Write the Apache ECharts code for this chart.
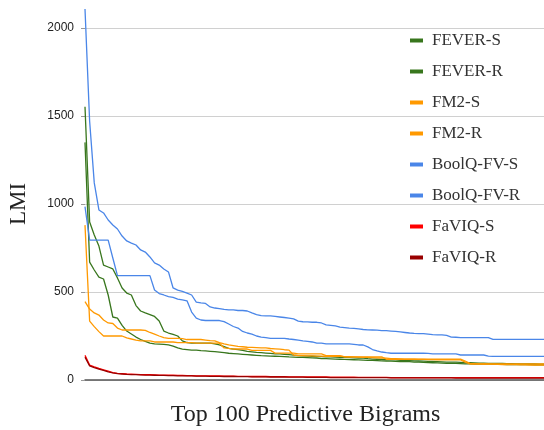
<!DOCTYPE html>
<html>
<head>
<meta charset="utf-8">
<script src="https://cdn.jsdelivr.net/npm/echarts@6/dist/echarts.min.js"></script>
<style>html,body{margin:0;padding:0;background:#fff;}#c{width:544px;height:430px;}</style>
</head>
<body>
<div id="c"></div>
<script>
var seriesNames = ['FEVER-S', 'FEVER-R', 'FM2-S', 'FM2-R', 'BoolQ-FV-S', 'BoolQ-FV-R', 'FaVIQ-S', 'FaVIQ-R'];
var yTicks = [0, 500, 1000, 1500, 2000];

var feverS = [1553, 898, 824, 761, 653, 642, 631, 580, 523, 494,
  483, 423, 392, 381, 372, 361, 335, 278, 267, 259,
  250, 222, 213, 209, 209, 209, 209, 209, 205, 200,
  190, 180, 176, 172, 168, 163, 160, 157, 155, 153,
  151, 149, 148, 146, 144, 141, 139, 137, 136, 135,
  134, 133, 132, 131, 130, 129, 128, 127, 126, 125,
  124, 121, 119, 118, 117, 116, 115, 114, 112, 111,
  110, 109, 108, 107, 106, 105, 104, 103, 102, 102,
  101, 100, 99, 98, 97, 96, 96, 95, 95, 94,
  94, 93, 93, 92, 92, 91, 91, 91, 90, 90];
var feverR = [1350, 670, 625, 585, 574, 483, 358, 352, 310, 278,
  261, 244, 230, 219, 209, 205, 204, 202, 200, 193,
  182, 176, 173, 170, 170, 167, 165, 163, 161, 158,
  155, 152, 150, 148, 146, 144, 142, 140, 138, 137,
  136, 135, 134, 133, 131, 130, 129, 128, 127, 126,
  125, 122, 121, 120, 119, 118, 117, 116, 115, 114,
  113, 112, 111, 110, 109, 108, 107, 106, 105, 105,
  104, 102, 101, 100, 99, 98, 97, 96, 95, 94,
  94, 93, 92, 92, 91, 91, 90, 90, 89, 89,
  89, 88, 88, 88, 87, 87, 87, 86, 86, 86];
var fm2S = [880, 335, 303, 275, 250, 250, 250, 250, 250, 239,
  233, 227, 222, 222, 222, 216, 216, 216, 216, 216,
  212, 212, 212, 212, 209, 209, 209, 209, 209, 209,
  182, 180, 176, 176, 176, 176, 168, 168, 168, 168,
  168, 153, 153, 153, 153, 153, 148, 148, 148, 148,
  148, 148, 139, 139, 139, 139, 131, 131, 131, 131,
  131, 131, 131, 131, 131, 118, 118, 118, 118, 118,
  118, 118, 118, 118, 118, 118, 118, 118, 118, 118,
  118, 118, 108, 95, 93, 92, 91, 90, 90, 89,
  88, 88, 87, 87, 86, 86, 85, 85, 85, 85];
var fm2R = [445, 403, 381, 369, 341, 324, 321, 295, 284, 284,
  284, 284, 284, 282, 270, 261, 250, 241, 236, 236,
  236, 235, 230, 230, 230, 230, 227, 224, 222, 213,
  205, 199, 195, 191, 189, 186, 185, 184, 183, 182,
  179, 177, 175, 172, 170, 142, 139, 138, 137, 137,
  136, 136, 135, 135, 134, 134, 133, 132, 131, 130,
  129, 128, 127, 126, 125, 124, 122, 121, 120, 119,
  118, 118, 117, 117, 116, 116, 115, 115, 114, 114,
  114, 114, 102, 91, 91, 91, 91, 91, 91, 91,
  91, 91, 91, 91, 91, 91, 91, 91, 91, 91];
var boolqS = [2108, 1470, 1120, 966, 949, 909, 881, 858, 818, 790,
  778, 767, 739, 727, 699, 665, 653, 631, 614, 523,
  511, 503, 494, 483, 443, 438, 435, 415, 409, 406,
  401, 398, 398, 395, 395, 392, 381, 372, 366, 364,
  364, 361, 358, 355, 352, 347, 335, 331, 330, 328,
  328, 324, 313, 310, 307, 301, 298, 295, 293, 290,
  287, 285, 284, 283, 281, 280, 278, 276, 273, 270,
  267, 265, 264, 264, 261, 258, 256, 256, 253, 244,
  243, 241, 241, 241, 241, 241, 241, 241, 231, 231,
  231, 231, 231, 231, 231, 231, 231, 231, 231, 231];
var boolqR = [985, 795, 795, 795, 795, 795, 693, 593, 593, 593,
  593, 593, 593, 593, 593, 511, 491, 483, 474, 469,
  460, 455, 450, 386, 352, 341, 338, 338, 338, 338,
  332, 318, 304, 295, 276, 267, 261, 250, 244, 241,
  237, 237, 237, 237, 233, 230, 227, 222, 219, 216,
  210, 209, 205, 205, 205, 205, 205, 205, 202, 199,
  199, 188, 173, 165, 159, 155, 152, 152, 152, 152,
  152, 152, 152, 152, 151, 149, 148, 148, 148, 148,
  148, 142, 142, 142, 142, 142, 142, 136, 134, 134,
  134, 134, 134, 134, 134, 134, 134, 134, 134, 134];
var faviqS = [140, 85, 75, 66, 58, 50, 42, 38, 36, 34,
  33, 32, 31, 30, 30, 29, 28, 28, 27, 27,
  26, 26, 25, 25, 24, 24, 24, 23, 23, 23,
  22, 22, 22, 21, 21, 21, 20, 20, 20, 20,
  19, 19, 19, 19, 18, 18, 18, 18, 17, 17,
  17, 17, 17, 16, 16, 16, 16, 16, 16, 15,
  15, 15, 15, 15, 15, 15, 14, 14, 14, 14,
  14, 14, 14, 14, 14, 13, 13, 13, 13, 13,
  13, 13, 13, 13, 13, 13, 13, 13, 13, 13,
  13, 13, 13, 13, 13, 13, 13, 13, 13, 13];
var faviqR = [130, 80, 70, 62, 54, 46, 40, 36, 34, 32,
  31, 30, 29, 28, 28, 27, 26, 26, 25, 25,
  24, 24, 23, 23, 22, 22, 22, 21, 21, 21,
  20, 20, 20, 19, 19, 19, 18, 18, 18, 18,
  17, 17, 17, 17, 16, 16, 16, 16, 15, 15,
  15, 15, 15, 14, 14, 14, 14, 14, 14, 13,
  13, 13, 13, 13, 13, 13, 12, 12, 12, 12,
  12, 12, 12, 12, 12, 12, 12, 12, 12, 12,
  11, 11, 11, 11, 11, 11, 11, 11, 11, 11,
  11, 11, 11, 11, 11, 11, 11, 11, 11, 11];

var colors = ['#38761d', '#38761d', '#ff9900', '#ff9900', '#4a86e8', '#4a86e8', '#ff0000', '#990000'];
var allData = [feverS, feverR, fm2S, fm2R, boolqS, boolqR, faviqS, faviqR];
var categories = [];
for (var i = 1; i <= feverS.length; i++) categories.push(String(i));

var chart = echarts.init(document.getElementById('c'), null, {renderer: 'canvas'});
var series = seriesNames.map(function (n, k) {
  return {
    name: n, type: 'line', data: allData[k], showSymbol: false, symbol: 'none',
    clip: false, lineStyle: {width: 1.3, color: colors[k]}, itemStyle: {color: colors[k]},
    emphasis: {disabled: true}
  };
});
chart.setOption({
  animation: false,
  color: colors,
  grid: {left: 85, right: 0, top: 28, bottom: 50, containLabel: false, outerBoundsMode: 'none'},
  legend: {
    orient: 'vertical', left: 405, top: 27, icon: 'rect', itemWidth: 13, itemHeight: 4,
    itemGap: 14, data: seriesNames,
    textStyle: {fontFamily: 'Liberation Serif', fontSize: 17, lineHeight: 17, color: '#333', padding: [0, 0, 0, 4]}
  },
  xAxis: {
    type: 'category', data: categories, boundaryGap: false,
    name: 'Top 100 Predictive Bigrams', nameLocation: 'middle', nameGap: 23,
    nameTextStyle: {fontFamily: 'Liberation Serif', fontSize: 24, color: '#222', padding: [0, 18, 0, 0]},
    axisLine: {show: true, lineStyle: {color: '#555', width: 1.5}},
    axisTick: {show: false}, axisLabel: {show: false}, splitLine: {show: false}
  },
  yAxis: {
    type: 'value', min: yTicks[0], max: yTicks[yTicks.length - 1], interval: 500,
    name: 'LMI', nameLocation: 'middle', nameGap: 55, nameMoveOverlap: false,
    nameTextStyle: {fontFamily: 'Liberation Serif', fontSize: 23, color: '#222'},
    axisLine: {show: false},
    axisTick: {show: true, length: 4, lineStyle: {color: '#999'}},
    axisLabel: {fontFamily: 'Liberation Sans', fontSize: 12, color: '#222', margin: 11,
      formatter: function (v) { return String(v); }},
    splitLine: {show: true, lineStyle: {color: '#d0d0d0', width: 1}}
  },
  series: series
});
</script>
</body>
</html>
